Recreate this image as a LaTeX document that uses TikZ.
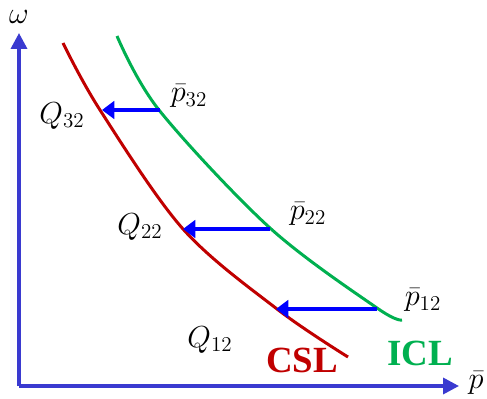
\documentclass[tikz,border=0pt]{standalone}
\usepackage{fontspec}
\setmainfont{Liberation Serif}
\usepackage{tikz}
\usetikzlibrary{positioning, arrows.meta, calc}
\definecolor{axisBlue}{HTML}{3A3AD0}
\definecolor{shiftBlue}{HTML}{0000FF}
\definecolor{cslRed}{HTML}{C00000}
\definecolor{iclGreen}{HTML}{00B050}

\begin{document}
\begin{tikzpicture}[
  axis/.style={
    draw=axisBlue, line width=2pt,
    -{Triangle[length=9pt, width=9pt]}
  },
  curve/.style={draw=#1, line width=1.7pt},
  shiftarrow/.style={
    draw=shiftBlue, line width=2.8pt,
    -{Triangle[length=7pt, width=10pt]}
  },
  mlabel/.style={font=\fontsize{18}{21}\selectfont, inner sep=0pt},
  lineLabel/.style={font=\fontsize{21}{24}\selectfont\bfseries, text=#1},
]
\useasboundingbox (0,0) rectangle (9.74,7.96);

% === AXES ===
\coordinate (o) at (0.38,0.24);
\coordinate (ytop) at (0.38,7.30);
\coordinate (xend) at (9.18,0.24);
\draw[axis] (o) -- (ytop);
\draw[axis] (o) -- (xend);
\node[mlabel] (wlab) at (0.38,7.62) {$\omega$};
\node[mlabel] (plab) at (9.52,0.30) {$\bar{p}$};

% === CURVES ===
\draw[curve=cslRed] plot[smooth, tension=0.55] coordinates {
  (1.26,7.10) (2.00,5.76) (3.66,3.38) (5.54,1.78) (6.96,0.82)};
\draw[curve=iclGreen] plot[smooth, tension=0.55] coordinates {
  (2.34,7.24) (3.18,5.76) (5.40,3.40) (7.54,1.80) (8.04,1.56)};

% === SHIFT POINTS ===
\coordinate (i3) at (3.20,5.76);
\coordinate (c3) at (2.04,5.76);
\coordinate (i2) at (5.40,3.38);
\coordinate (c2) at (3.66,3.38);
\coordinate (i1) at (7.54,1.78);
\coordinate (c1) at (5.52,1.78);

\draw[shiftarrow] (i3) -- (c3);
\draw[shiftarrow] (i2) -- (c2);
\draw[shiftarrow] (i1) -- (c1);

% === LABELS ===
\node[mlabel] (q3) at (1.24,5.64) {$Q_{32}$};
\node[mlabel] (p3) at (3.78,6.04) {$\bar{p}_{32}$};
\node[mlabel] (q2) at (2.80,3.42) {$Q_{22}$};
\node[mlabel] (p2) at (6.16,3.68) {$\bar{p}_{22}$};
\node[mlabel] (p1) at (8.46,1.96) {$\bar{p}_{12}$};
\node[mlabel] (q1) at (4.20,1.16) {$Q_{12}$};

\node[lineLabel=cslRed] (csl) at (6.04,0.76) {CSL};
\node[lineLabel=iclGreen] (icl) at (8.40,0.90) {ICL};

\end{tikzpicture}
\end{document}
